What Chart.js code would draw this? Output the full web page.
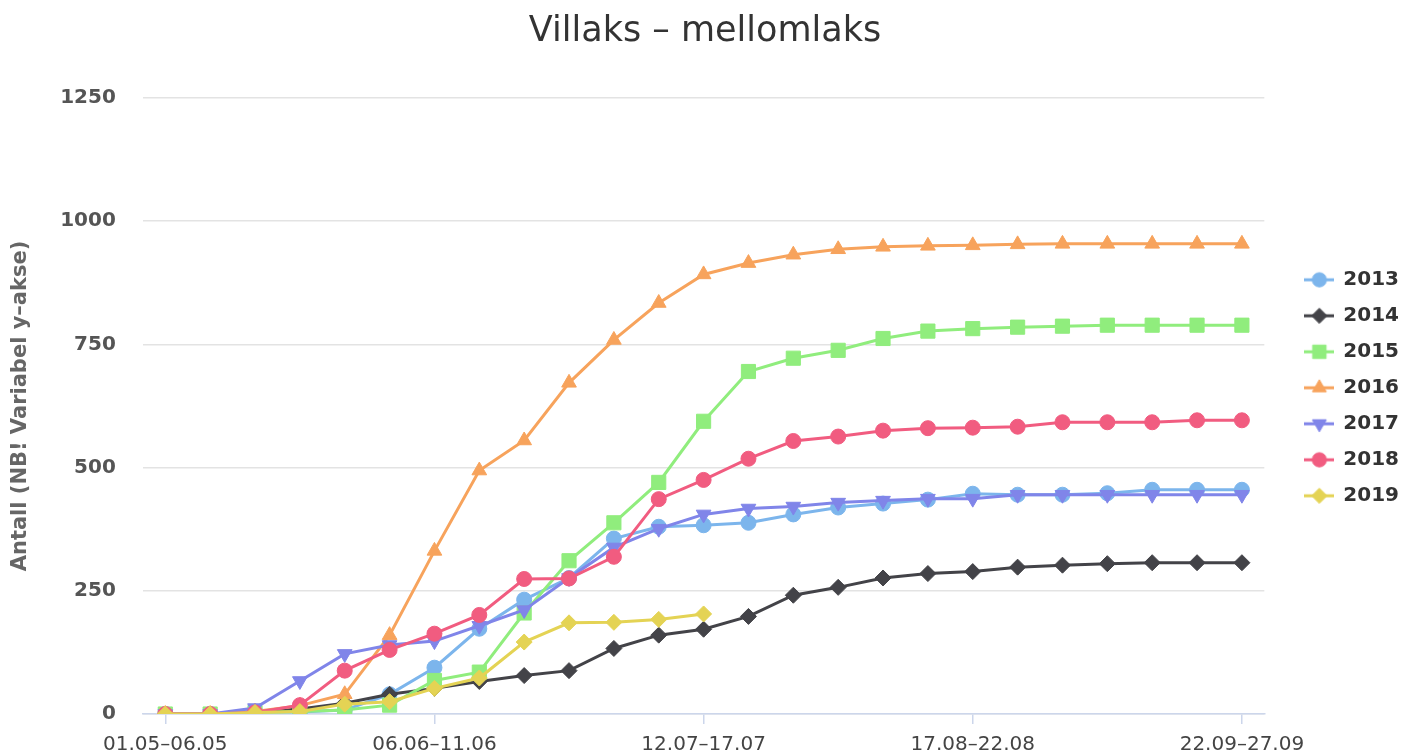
<!DOCTYPE html>
<html>
<head>
<meta charset="utf-8">
<script src="https://cdn.jsdelivr.net/npm/chart.js@4"></script>
<style>
  body { margin: 0; background: #fff; }
  #wrap { width: 1414px; height: 756px; position: relative; }
</style>
</head>
<body>
<div id="wrap"><canvas id="chart-output"></canvas></div>
<script>
// 5-day periods, 6 days apart
var categories = ["01.05–06.05","07.05–12.05","13.05–18.05","19.05–24.05","25.05–30.05","31.05–05.06",
  "06.06–11.06","12.06–17.06","18.06–23.06","24.06–29.06","30.06–05.07","06.07–11.07",
  "12.07–17.07","18.07–23.07","24.07–29.07","30.07–04.08","05.08–10.08","11.08–16.08",
  "17.08–22.08","23.08–28.08","29.08–03.09","04.09–09.09","10.09–15.09","16.09–21.09","22.09–27.09"];

var years = ["2013","2014","2015","2016","2017","2018","2019"];

var s2013 = [0,0,5,4,8,40,94,173,232,276,356,380,383,388,405,419,427,435,447,445,445,448,455,455,455];
var s2014 = [0,0,4,10,22,40,52,66,78,88,133,160,172,198,241,257,276,285,289,298,302,305,307,307,307];
var s2015 = [0,0,3,5,8,18,68,85,205,311,388,470,594,695,722,738,762,777,782,785,787,789,789,789,789];
var s2016 = [0,0,5,17,40,160,331,494,555,672,759,834,892,915,932,943,948,950,951,953,954,954,954,954,954];
var s2017 = [0,0,12,67,122,140,148,179,211,276,338,376,405,417,421,429,433,437,437,445,445,445,445,445,445];
var s2018 = [0,0,3,18,88,130,163,201,274,275,319,436,475,518,554,563,575,580,581,583,592,592,592,596,596];
var s2019 = [0,0,3,5,20,25,52,73,146,185,186,192,203];

var yTicks = [0,250,500,750,1000,1250];

var seriesData = [s2013,s2014,s2015,s2016,s2017,s2018,s2019];
var colors = ["#7cb5ec","#434348","#90ed7d","#f7a35c","#8085e9","#f15c80","#e4d354"];
var markers = ["circle","rectRot","rect","triangle","triangle","circle","rectRot"];
var markerRot = [0,0,0,0,180,0,0];
var markerSize = [7.5,8,10,8.5,8.5,7.5,8];

var FONT = "'DejaVu Sans', sans-serif";

// legend symbol: short line with the marker on it
function legendIcon(i) {
  var c = document.createElement('canvas');
  c.width = 30; c.height = 20;
  var g = c.getContext('2d');
  g.strokeStyle = colors[i];
  g.lineWidth = 3;
  g.beginPath(); g.moveTo(0, 10); g.lineTo(30, 10); g.stroke();
  g.fillStyle = colors[i];
  g.lineWidth = 1;
  Chart.helpers.drawPoint(g, {pointStyle: markers[i], radius: markerSize[i] * 0.95, rotation: markerRot[i], borderWidth: 1}, 15, 10);
  return c;
}

var datasets = years.map(function (y, i) {
  return {
    label: y,
    data: seriesData[i],
    borderColor: colors[i],
    backgroundColor: colors[i],
    borderWidth: 3,
    pointStyle: markers[i],
    pointRotation: markerRot[i],
    pointRadius: markerSize[i],
    pointBorderWidth: 1,
    tension: 0,
    order: years.length - i   // later years on top
  };
});

// give the legend some room on its left side
var legendGap = {
  id: 'legendGap',
  afterInit: function (chart) {
    var fit = chart.legend.fit;
    chart.legend.fit = function () { fit.call(this); this.width += 26; };
  },
  afterLayout: function (chart) {
    chart.legend.left += 25;
  }
};

var ctx = document.getElementById("chart-output");
new Chart(ctx, {
  type: 'line',
  data: { labels: categories, datasets: datasets },
  plugins: [legendGap],
  options: {
    responsive: true,
    maintainAspectRatio: false,
    animation: false,
    layout: { padding: { left: 0, right: 4, top: 0, bottom: -10 } },
    plugins: {
      title: {
        display: true,
        text: "Villaks – mellomlaks",
        color: "#333",
        font: { family: FONT, size: 35, weight: 'normal' },
        padding: { top: 11, bottom: 45 }
      },
      legend: {
        position: 'right',
        title: { display: true, text: '', padding: 0, font: { size: 8 } },
        labels: {
          usePointStyle: true,
          pointStyleWidth: 28,
          padding: 16,
          color: "#333",
          font: { family: FONT, size: 20, weight: 'bold' },
          generateLabels: function (chart) {
            return years.map(function (y, i) {
              return { text: y, datasetIndex: i, pointStyle: legendIcon(i), fillStyle: colors[i],
                strokeStyle: colors[i], lineWidth: 0, fontColor: "#333", hidden: false };
            });
          }
        }
      },
      tooltip: { enabled: false }
    },
    scales: {
      x: {
        offset: true,
        grid: {
          offset: false,
          drawOnChartArea: false,
          tickLength: 10,
          lineWidth: 1.5,
          color: function (c) { return c.index % 6 === 0 ? "#ccd6eb" : "rgba(0,0,0,0)"; }
        },
        border: { color: "#ccd6eb", width: 1.5 },
        ticks: {
          autoSkip: false,
          maxRotation: 0,
          padding: 9,
          color: "#444",
          font: { family: FONT, size: 20 },
          callback: function (v, i) { return i % 6 === 0 ? categories[i] : ""; }
        }
      },
      y: {
        min: 0,
        max: 1250,
        afterBuildTicks: function (axis) { axis.ticks = yTicks.map(function (v) { return { value: v }; }); },
        grid: { color: "#e3e3e3", lineWidth: 1.5, drawTicks: false },
        border: { display: false },
        ticks: {
          padding: 27,
          color: "#555",
          font: { family: FONT, size: 20, weight: 'bold' },
          callback: function (v) { return String(v); }
        },
        title: {
          display: true,
          text: "Antall (NB! Variabel y–akse)",
          color: "#666",
          font: { family: FONT, size: 21, weight: 'bold' },
          padding: { top: 8, bottom: 0 }
        }
      }
    }
  }
});
</script>
</body>
</html>
